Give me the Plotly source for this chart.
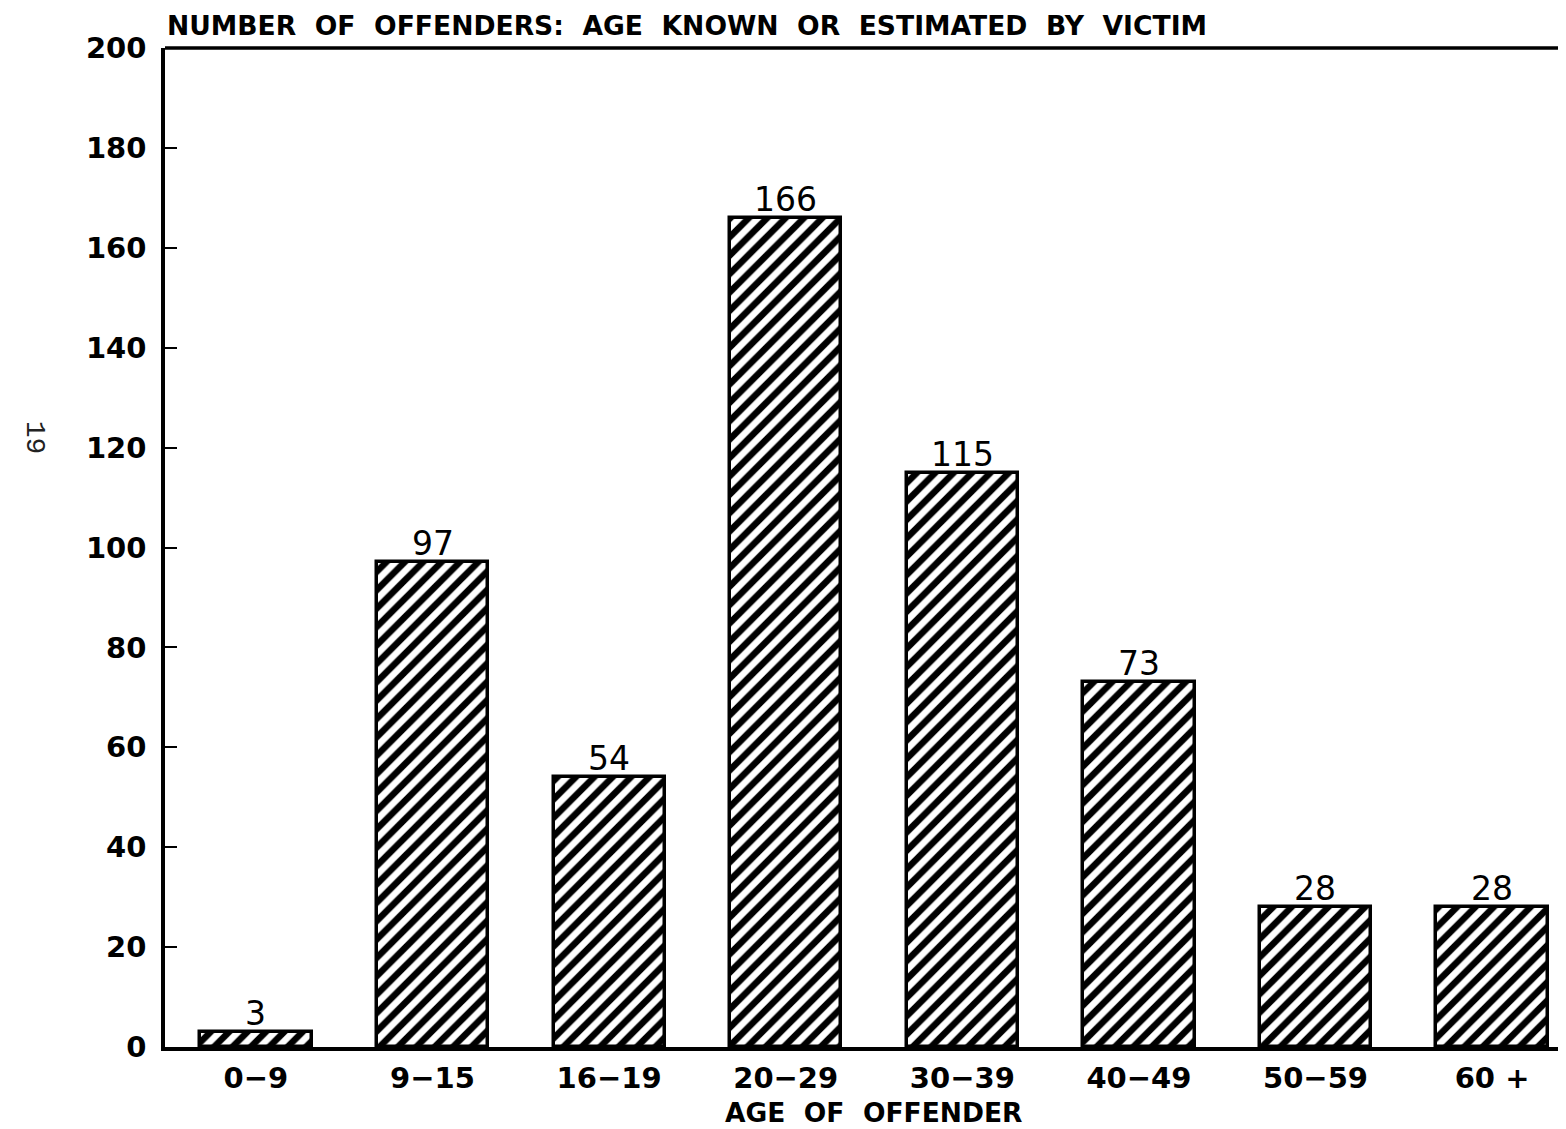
import plotly.graph_objects as go

categories = ["0-9", "9-15", "16-19", "20-29", "30-39", "40-49", "50-59", "60 +"]
tick_labels = ["0\u22129", "9\u221215", "16\u221219", "20\u221229", "30\u221239", "40\u221249", "50\u221259", "60 +"]
values = [3, 97, 54, 166, 115, 73, 28, 28]
y_ticks = [0, 20, 40, 60, 80, 100, 120, 140, 160, 180, 200]

FONT = "DejaVu Sans"
xs = list(range(len(categories)))

fig = go.Figure()
fig.add_trace(go.Bar(
    x=xs,
    y=values,
    width=0.63,
    marker=dict(
        color="white",
        line=dict(color="black", width=3.5),
        pattern=dict(shape="/", fgcolor="black", bgcolor="white", fgopacity=1,
                     size=13, solidity=0.5),
    ),
    hoverinfo="skip",
))

value_labels = [
    dict(text=str(v), x=x, y=v, xref="x", yref="y", xanchor="center", yanchor="bottom",
         yshift=-3, showarrow=False, font=dict(family=FONT, size=33, color="black"))
    for x, v in zip(xs, values)
]

fig.update_layout(
    width=1560, height=1121,
    paper_bgcolor="white", plot_bgcolor="white",
    margin=dict(l=157, r=0, t=40, b=82),
    showlegend=False,
    bargap=0,
    annotations=[
        dict(text="<b>NUMBER  OF  OFFENDERS:  AGE  KNOWN  OR  ESTIMATED  BY  VICTIM</b>",
             xref="paper", yref="paper", x=0.0, y=1.0, xanchor="left", yanchor="bottom",
             yshift=5, showarrow=False, font=dict(family=FONT, size=26.6, color="black")),
        dict(text="<b>AGE  OF  OFFENDER</b>", xref="paper", yref="paper", x=0.505, y=0,
             xanchor="center", yanchor="top", yshift=-48, showarrow=False,
             font=dict(family=FONT, size=26.5, color="black")),
        dict(text="19", xref="paper", yref="paper", x=-0.0934, y=0.61, textangle=90,
             xanchor="center", yanchor="middle", showarrow=False,
             font=dict(family="Liberation Mono", size=28, color="#222")),
    ] + value_labels,
    shapes=[
        dict(type="line", xref="paper", yref="paper", x0=0, x1=1, y0=1, y1=1,
             line=dict(color="black", width=3.5)),
    ],
)

fig.update_xaxes(
    range=[-0.515, 7.43],
    tickmode="array", tickvals=xs, ticktext=[f"<b>{t}</b>" for t in tick_labels],
    tickfont=dict(family=FONT, size=29, color="black"),
    showline=True, linecolor="black", linewidth=3.5,
    showgrid=False, zeroline=False, ticks="", ticklen=0,
    ticklabelstandoff=2,
)
fig.update_yaxes(
    range=[0, 200],
    tickmode="array", tickvals=y_ticks, ticktext=[f"<b>{t}</b>" for t in y_ticks],
    tickfont=dict(family=FONT, size=29, color="black"),
    showline=True, linecolor="black", linewidth=3.5,
    showgrid=False, zeroline=False,
    ticks="inside", ticklen=12, tickwidth=2, tickcolor="black",
    ticklabelstandoff=9,
)

fig.write_html("out.html")
